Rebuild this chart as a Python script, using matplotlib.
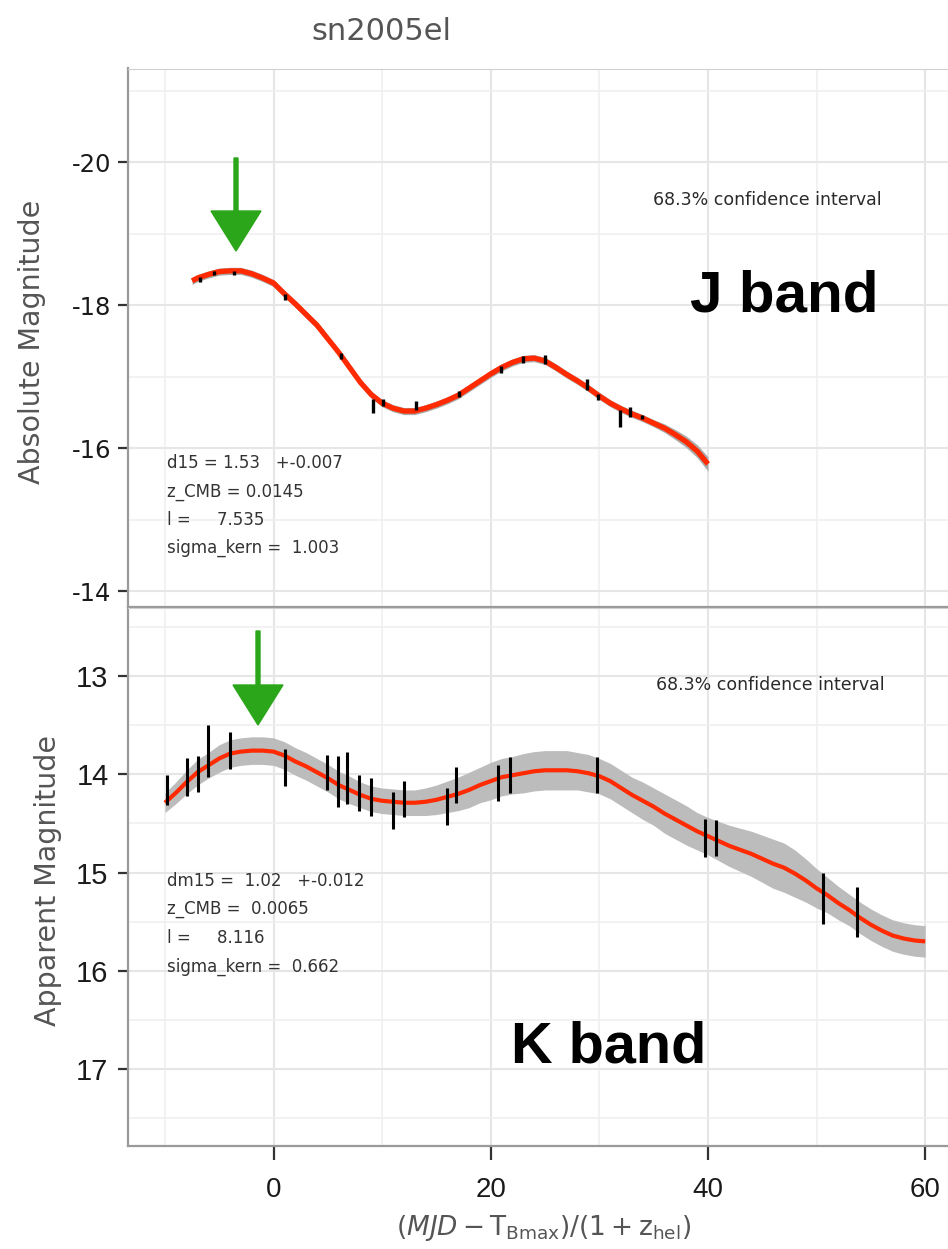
import matplotlib
matplotlib.use('Agg')
import matplotlib.pyplot as plt
from matplotlib.patches import FancyArrow
from matplotlib.ticker import MultipleLocator

plt.rcParams['axes.unicode_minus'] = False

# ---- J band (absolute magnitude) ----
j_phase = [-6.8, -5.5, -3.6, 1.1, 6.2, 9.2, 10.1, 13.1, 17.1, 20.9, 23.0, 25.0,
           28.9, 29.9, 31.9, 32.8, 33.9]
j_mag = [-18.36, -18.45, -18.45, -18.11, -17.29, -16.59, -16.64, -16.60, -16.76,
         -17.10, -17.24, -17.24, -16.89, -16.72, -16.42, -16.51, -16.44]
j_err = [0.04, 0.03, 0.03, 0.04, 0.04, 0.10, 0.05, 0.06, 0.045, 0.045, 0.055,
         0.065, 0.075, 0.045, 0.12, 0.07, 0.03]

j_fit_phase = [-7.5] + list(range(-7, 41))
j_fit_mag = [-18.34, -18.38, -18.43, -18.47, -18.48, -18.48, -18.44, -18.38,
             -18.31, -18.16, -18.02, -17.87, -17.72, -17.53, -17.34, -17.13,
             -16.92, -16.75, -16.63, -16.56, -16.52, -16.52, -16.56, -16.61,
             -16.67, -16.74, -16.84, -16.94, -17.04, -17.13, -17.20, -17.25,
             -17.26, -17.22, -17.13, -17.03, -16.94, -16.84, -16.73, -16.63,
             -16.55, -16.48, -16.42, -16.35, -16.28, -16.19, -16.09, -15.96,
             -15.78]
j_fit_sig = [0.05] * 44 + [0.06, 0.07, 0.08, 0.09, 0.10]

# ---- K band (apparent magnitude) ----
k_phase = [-9.8, -8.0, -7.0, -6.0, -4.0, 1.1, 4.9, 5.9, 6.8, 7.9, 9.0, 11.0,
           12.0, 16.0, 16.8, 20.7, 21.8, 29.8, 39.7, 40.7, 50.6, 53.7]
k_mag = [14.16, 14.03, 14.00, 13.76, 13.76, 13.93, 13.98, 14.07, 14.04, 14.19,
         14.23, 14.37, 14.25, 14.33, 14.11, 14.09, 14.01, 14.01, 14.65, 14.65,
         15.26, 15.40]
k_err = [0.15, 0.19, 0.185, 0.265, 0.19, 0.185, 0.18, 0.26, 0.265, 0.18, 0.195,
         0.185, 0.18, 0.185, 0.185, 0.18, 0.18, 0.18, 0.195, 0.185, 0.26, 0.255]

k_fit_phase = list(range(-10, 61))
k_fit_mag = [14.29, 14.19, 14.08, 13.98, 13.91, 13.84, 13.79, 13.77, 13.76, 13.76,
             13.77, 13.81, 13.87, 13.92, 13.98, 14.04, 14.11, 14.16, 14.21, 14.25,
             14.27, 14.28, 14.29, 14.29, 14.28, 14.26, 14.23, 14.20, 14.16, 14.11,
             14.07, 14.03, 14.01, 13.99, 13.97, 13.96, 13.96, 13.96, 13.97, 13.99,
             14.02, 14.07, 14.14, 14.21, 14.27, 14.33, 14.40, 14.46, 14.52, 14.58,
             14.63, 14.68, 14.73, 14.77, 14.81, 14.86, 14.91, 14.95, 15.01, 15.08,
             15.16, 15.23, 15.31, 15.38, 15.46, 15.53, 15.59, 15.64, 15.67, 15.69,
             15.70]
k_fit_sig = [0.10, 0.11, 0.12, 0.13, 0.13, 0.14,
             0.14, 0.14, 0.14, 0.14, 0.14, 0.14, 0.14, 0.14, 0.14, 0.14,
             0.14, 0.14, 0.13, 0.13, 0.13, 0.13, 0.13, 0.13, 0.14, 0.15,
             0.16, 0.17, 0.18, 0.18, 0.19, 0.19, 0.19, 0.20, 0.20, 0.20,
             0.20, 0.20, 0.19, 0.19, 0.18, 0.18, 0.18, 0.18, 0.19, 0.19,
             0.20, 0.20, 0.20, 0.19, 0.19, 0.20, 0.21, 0.22, 0.23, 0.24,
             0.25, 0.25, 0.24, 0.22, 0.20, 0.18, 0.17, 0.16, 0.16, 0.16,
             0.16, 0.16, 0.16, 0.16, 0.16]

j_stats = ['d15 = 1.53   +-0.007', 'z_CMB = 0.0145', 'l =     7.535',
           'sigma_kern =  1.003']
k_stats = ['dm15 =  1.02   +-0.012', 'z_CMB =  0.0065', 'l =     8.116',
           'sigma_kern =  0.662']

W, H = 948, 1249
RED = '#ff2a00'
BAND = '#bcbcbc'
SPINE = '#9a9a9a'


def px(x, y):
    """pixel (from top-left) -> figure fraction"""
    return x / W, 1 - y / H


fig = plt.figure(figsize=(W / 100, H / 100), dpi=100)
ax1 = fig.add_axes([128 / W, 1 - 607 / H, 1 - 128 / W, (607 - 68.5) / H])
ax2 = fig.add_axes([128 / W, 1 - 1146 / H, 1 - 128 / W, (1146 - 608) / H])


def style(ax, lab_size, lab_font):
    ax.spines['right'].set_visible(False)
    ax.spines['top'].set_color('#d0d0d0')
    for s in ['left', 'bottom']:
        ax.spines[s].set_color(SPINE)
        ax.spines[s].set_linewidth(1.6)
    ax.xaxis.set_major_locator(MultipleLocator(20))
    ax.xaxis.set_minor_locator(MultipleLocator(10))
    ax.grid(True, which='major', color='#e6e6e6', lw=1.5, zorder=0)
    ax.grid(True, which='minor', color='#efefef', lw=1.1, zorder=0)
    ax.set_axisbelow(True)
    ax.tick_params(which='minor', length=0)
    ax.tick_params(which='major', direction='out', length=7, width=1.6,
                   color='#333333', labelcolor='#1a1a1a')
    for t in ax.get_yticklabels():
        t.set_fontsize(lab_size)
        t.set_family(lab_font)


ax1.set_xlim(-13.4, 62.1)
ax2.set_xlim(-13.4, 62.1)
ax1.set_ylim(-13.78, -21.31)
ax2.set_ylim(17.78, 12.31)
ax1.yaxis.set_major_locator(MultipleLocator(2))
ax1.yaxis.set_minor_locator(MultipleLocator(1))
ax2.yaxis.set_major_locator(MultipleLocator(1))
ax2.yaxis.set_minor_locator(MultipleLocator(0.5))
style(ax1, 17.5, 'DejaVu Sans')
style(ax2, 21, 'Liberation Sans')
ax1.tick_params(axis='x', bottom=False, labelbottom=False)
ax1.tick_params(axis='y', pad=5)
ax2.tick_params(axis='y', pad=7)
ax2.tick_params(axis='x', pad=12, length=10)
for t in ax2.get_xticklabels():
    t.set_fontsize(20)
    t.set_family('Liberation Sans')

# J band
j_lo = [m - s for m, s in zip(j_fit_mag, j_fit_sig)]
j_hi = [m + s for m, s in zip(j_fit_mag, j_fit_sig)]
ax1.fill_between(j_fit_phase, j_lo, j_hi, color='#aaaaaa', lw=0, zorder=2)
ax1.plot(j_fit_phase, j_fit_mag, color=RED, lw=3.8, zorder=3,
         solid_capstyle='butt', solid_joinstyle='round')
ax1.errorbar(j_phase, j_mag, yerr=j_err, fmt='none', ecolor='black',
             elinewidth=2.4, capsize=0, zorder=4)

# K band
k_lo = [m - s for m, s in zip(k_fit_mag, k_fit_sig)]
k_hi = [m + s for m, s in zip(k_fit_mag, k_fit_sig)]
ax2.fill_between(k_fit_phase, k_lo, k_hi, color=BAND, lw=0, zorder=2)
ax2.plot(k_fit_phase, k_fit_mag, color=RED, lw=3.0, zorder=3,
         solid_capstyle='butt', solid_joinstyle='round')
ax2.errorbar(k_phase, k_mag, yerr=k_err, fmt='none', ecolor='black',
             elinewidth=2.2, capsize=0, zorder=4)

# texts
fig.text(*px(381, 31), 'sn2005el', ha='center', va='center', fontsize=22,
         color='#555555', family='DejaVu Sans')
fig.text(*px(32.5, 342), 'Absolute Magnitude', rotation=90, ha='center',
         va='center', fontsize=20.5, color='#555555', family='DejaVu Sans')
fig.text(*px(48, 880), 'Apparent Magnitude', rotation=90, ha='center',
         va='center', fontsize=20.5, color='#555555', family='DejaVu Sans')
fig.text(*px(544, 1228),
         r'$\left(MJD - \mathrm{T}_{\mathrm{Bmax}}\right)/\left(1 + \mathrm{z}_{\mathrm{hel}}\right)$',
         ha='center', va='center', fontsize=19, color='#555555')

fig.text(*px(653, 200), '68.3% confidence interval', ha='left', va='center',
         fontsize=12.5, color='#2a2a2a', family='DejaVu Sans')
fig.text(*px(656, 685), '68.3% confidence interval', ha='left', va='center',
         fontsize=12.5, color='#2a2a2a', family='DejaVu Sans')

for i, s in enumerate(j_stats):
    fig.text(*px(167, [463, 492, 520, 548][i]), s, ha='left', va='center',
             fontsize=12, color='#333333', family='DejaVu Sans')
for i, s in enumerate(k_stats):
    fig.text(*px(167, [881, 909, 938, 967][i]), s, ha='left', va='center',
             fontsize=12, color='#333333', family='DejaVu Sans')

fig.text(*px(690, 311), 'J band', ha='left', va='baseline', fontsize=42,
         fontweight='bold', family='Liberation Sans', color='black')
fig.text(*px(511, 1062.5), 'K band', ha='left', va='baseline', fontsize=41.5,
         fontweight='bold', family='Liberation Sans', color='black')

# green arrows (pixel geometry -> inches)
GREEN = '#2ba61a'
for ax_, ay0, ay1 in [(236, 158, 251), (258, 631, 725)]:
    arr = FancyArrow(ax_ / 100, (H - ay0) / 100, 0, -(ay1 - ay0) / 100,
                     width=0.04, head_width=0.5, head_length=0.40,
                     length_includes_head=True, color=GREEN,
                     transform=fig.dpi_scale_trans, zorder=10)
    fig.patches.append(arr)

fig.savefig('out.png', dpi=100)
